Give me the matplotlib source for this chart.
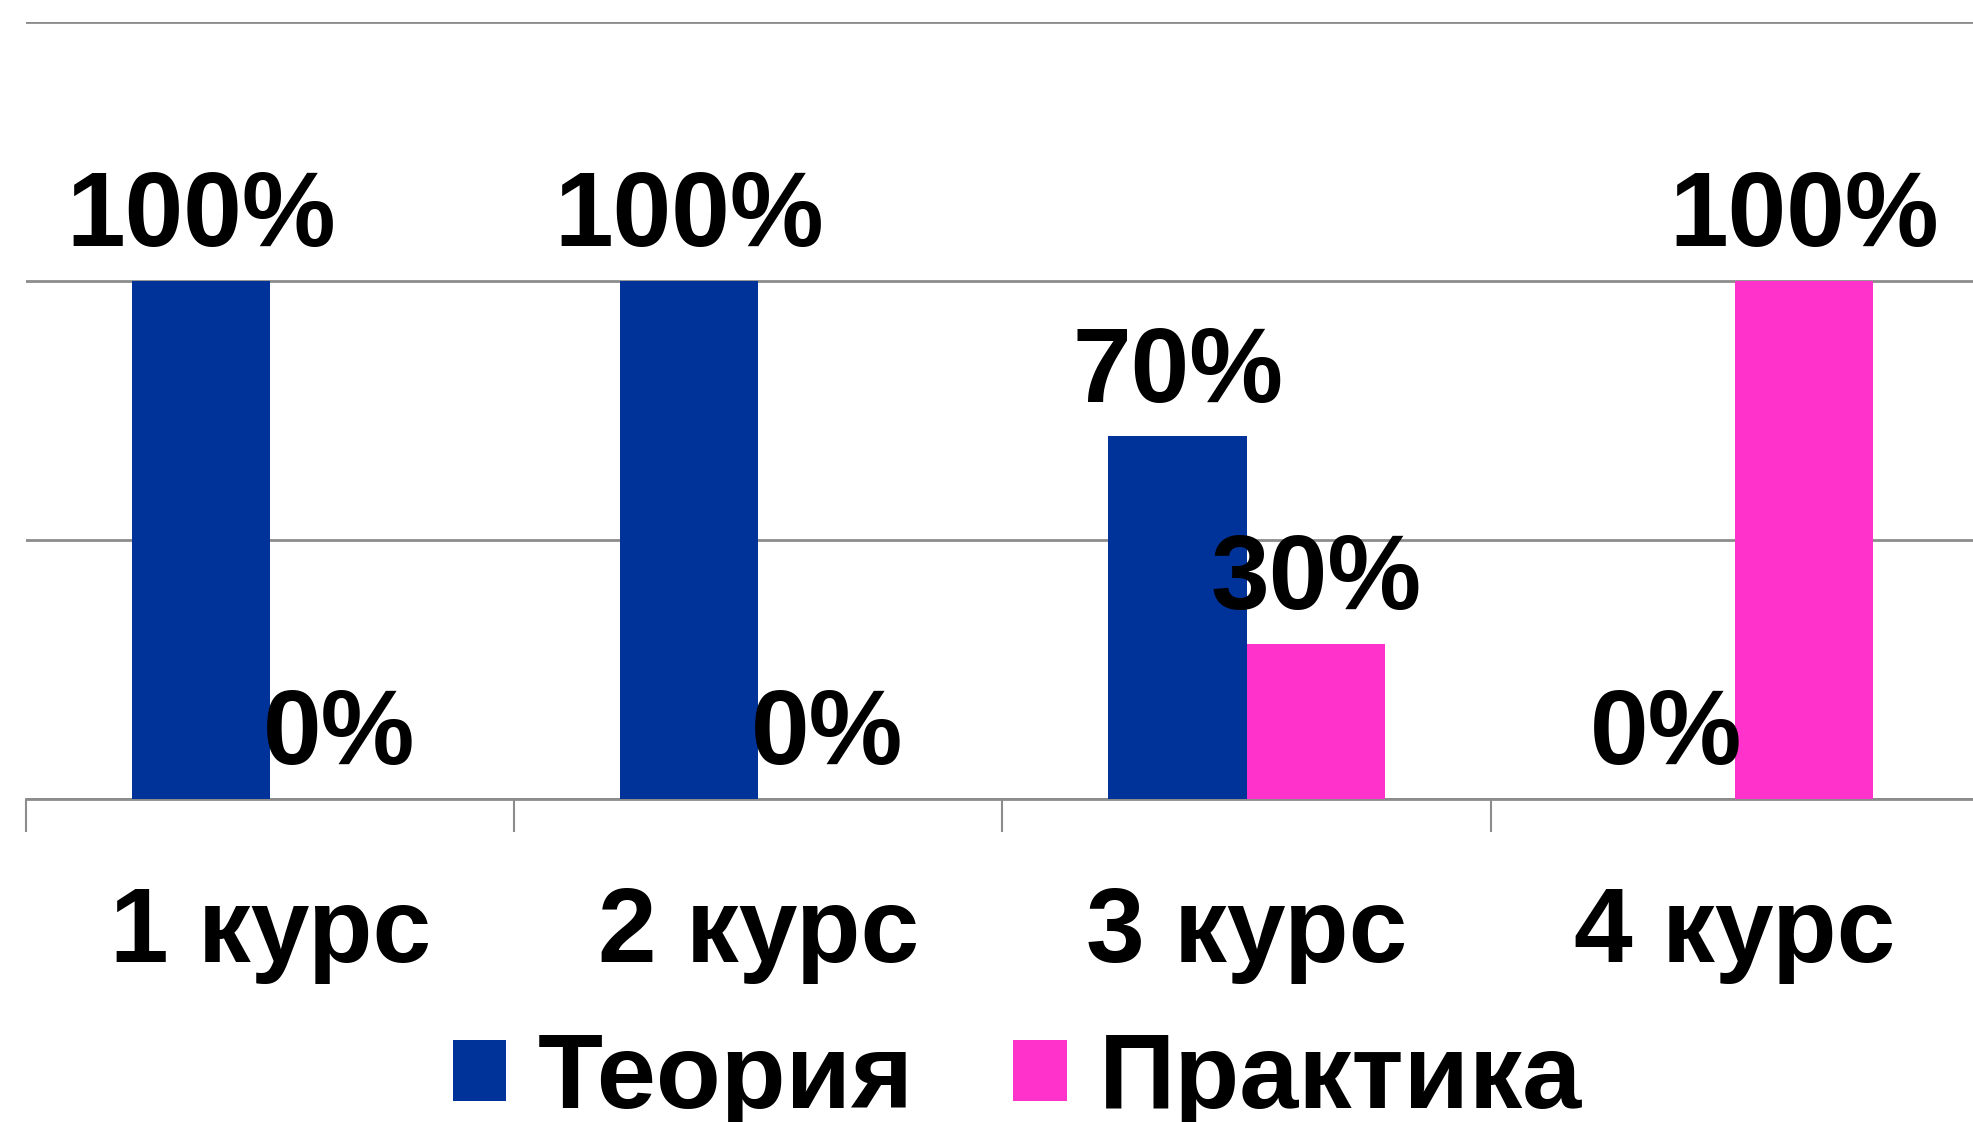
import matplotlib
matplotlib.use("Agg")
import matplotlib.pyplot as plt
import numpy as np

plt.rcParams["font.family"] = ["Liberation Sans", "DejaVu Sans"]
plt.rcParams["font.weight"] = "bold"

courses = ["1 курс", "2 курс", "3 курс", "4 курс"]
theory = [100, 100, 70, 0]
practice = [0, 0, 30, 100]
series_names = ["Теория", "Практика"]
colors = ["#003399", "#FF33CC"]

fig = plt.figure(figsize=(19.73, 11.22), dpi=100)
ax = fig.add_axes([0.0132, 0.2879, 0.9898, 0.6925])

x = np.arange(len(courses))
w = 0.283
b1 = ax.bar(x - w / 2, theory, w, color=colors[0], label=series_names[0], zorder=3)
b2 = ax.bar(x + w / 2, practice, w, color=colors[1], label=series_names[1], zorder=3)

# value labels above each bar
for bars in (b1, b2):
    for rect in bars:
        h = rect.get_height()
        ax.annotate(f"{h:.0f}%", (rect.get_x() + rect.get_width() / 2, h),
                    xytext=(0, 25), textcoords="offset points",
                    ha="center", va="baseline", fontsize=76,
                    fontweight="bold", zorder=4)

ax.set_xlim(-0.5, len(courses) - 0.5)
ax.set_ylim(0, 150)
ax.set_yticks([0, 50, 100, 150])
ax.yaxis.grid(True, color="#8c8c8c", linewidth=2)
ax.tick_params(axis="y", left=False, labelleft=False)

ax.set_xticks(x)
ax.set_xticklabels(courses, fontsize=76, fontweight="bold")
ax.set_xticks(np.arange(len(courses) + 1) - 0.5, minor=True)
ax.tick_params(axis="x", which="major", length=0, pad=62)
ax.tick_params(axis="x", which="minor", length=24, width=1.5, color="#8c8c8c")

for side in ("left", "right", "top"):
    ax.spines[side].set_visible(False)
ax.spines["bottom"].set_color("#8c8c8c")
ax.spines["bottom"].set_linewidth(2)
ax.set_axisbelow(True)

fig.legend(loc="center", bbox_to_anchor=(0.5155, 0.037), ncol=2, frameon=False,
           prop={"size": 76.5, "weight": "bold"}, handlelength=0.5,
           handleheight=0.5, handletextpad=0.3, columnspacing=0.94,
           borderaxespad=0, borderpad=0)

fig.savefig("out.png", dpi=100)
